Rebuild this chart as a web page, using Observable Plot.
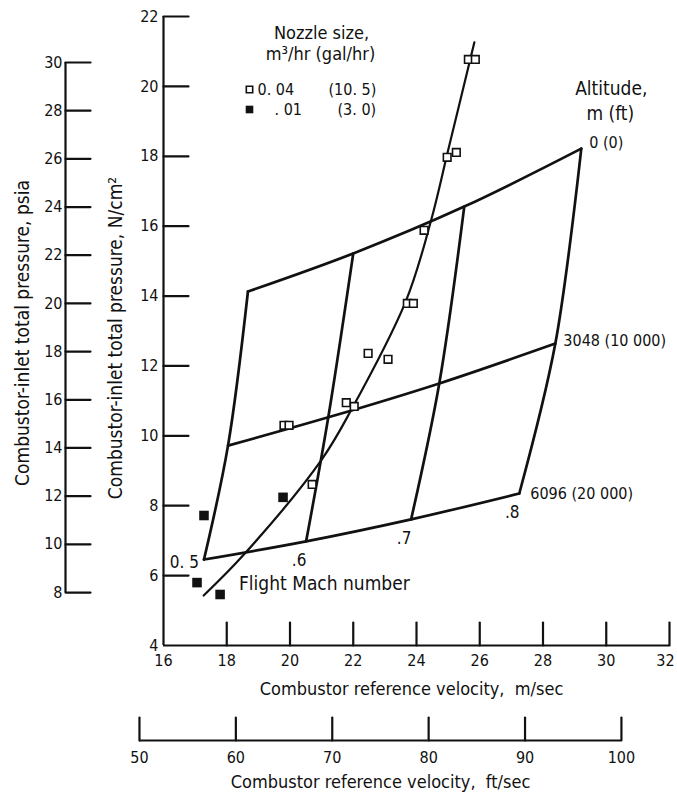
<!DOCTYPE html>
<html>
<head>
<meta charset="utf-8">
<script src="https://cdn.jsdelivr.net/npm/d3@7"></script>
<script src="https://cdn.jsdelivr.net/npm/@observablehq/plot@0.6"></script>
<style>
  html, body { margin: 0; padding: 0; background: #fff; }
  #chart svg { font-family: "DejaVu Sans Condensed", "DejaVu Sans", sans-serif; font-stretch: condensed; }
</style>
</head>
<body>
<div id="chart"></div>
<script>
// ---- unit conversions ----
const PSI = 0.689476;   // N/cm^2 per psi
const FT = 0.3048;      // m per ft

// ---- tick labels ----
const xTicks = [16, 18, 20, 22, 24, 26, 28, 30, 32];          // m/sec
const yTicks = [4, 6, 8, 10, 12, 14, 16, 18, 20, 22];          // N/cm^2
const psiaTicks = [8, 10, 12, 14, 16, 18, 20, 22, 24, 26, 28, 30];
const ftTicks = [50, 60, 70, 80, 90, 100];                     // ft/sec

// ---- operating envelope grid (velocity m/sec, pressure N/cm^2) ----
const altitudes = ["0 (0)", "3048 (10 000)", "6096 (20 000)"];
const machs = ["0. 5", ".6", ".7", ".8"];
const alt0Vel = [18.67, 22.00, 25.51, 29.21];
const alt0Prs = [14.13, 15.22, 16.56, 18.22];
const alt3048Vel = [18.04, 21.21, 24.72, 28.39];
const alt3048Prs = [9.72, 10.53, 11.50, 12.64];
const alt6096Vel = [17.28, 20.51, 23.83, 27.25];
const alt6096Prs = [6.46, 6.98, 7.61, 8.35];

// ---- faired curve through data ----
const fitVel = [17.27, 18.52, 20.98, 21.93, 23.67, 24.46, 25.00, 25.83];
const fitPrs = [5.43, 6.58, 9.29, 10.73, 13.87, 16.16, 18.17, 21.26];

// ---- data points ----
const openVel = [25.64, 25.86, 24.97, 25.26, 24.24, 23.71, 23.90, 22.47, 23.10, 21.78, 22.03, 19.81, 19.97, 20.70];
const openPrs = [20.77, 20.77, 17.97, 18.11, 15.88, 13.79, 13.79, 12.36, 12.19, 10.95, 10.84, 10.30, 10.30, 8.61];
const filledVel = [19.78, 17.28, 17.06, 17.79];
const filledPrs = [8.24, 7.72, 5.80, 5.46];

// ---- build tables ----
const altVel = [alt0Vel, alt3048Vel, alt6096Vel];
const altPrs = [alt0Prs, alt3048Prs, alt6096Prs];
const grid = altitudes.flatMap((a, i) => machs.map((m, j) => ({alt: a, mach: m, v: altVel[i][j], p: altPrs[i][j]})));
const fit = fitVel.map((v, i) => ({v, p: fitPrs[i]}));
const openPts = openVel.map((v, i) => ({v, p: openPrs[i]}));
const filledPts = filledVel.map((v, i) => ({v, p: filledPrs[i]}));

const lineShape = {draw(context, l) { context.moveTo(0, 0); context.lineTo(0, -l); }};
const ink = "#111";
const lastX = xTicks[xTicks.length - 1];

const plot = Plot.plot({
  width: 677,
  height: 792,
  marginLeft: 163,
  marginRight: 8,
  marginTop: 16,
  marginBottom: 147,
  x: {domain: [16, 32], axis: null},
  y: {domain: [4, 22], axis: null},
  style: {background: "#fff", color: ink},
  marks: [
    // main axes lines
    Plot.ruleX([16], {stroke: ink, strokeWidth: 2.2}),
    Plot.ruleY([4], {stroke: ink, strokeWidth: 2.2}),
    // inward ticks
    Plot.vector(xTicks.slice(1), {x: d => d, frameAnchor: "bottom", length: 23, anchor: "start", shape: lineShape, stroke: ink, strokeWidth: 2.2}),
    Plot.vector(yTicks.slice(1), {y: d => d, frameAnchor: "left", rotate: 90, length: 25, anchor: "start", shape: lineShape, stroke: ink, strokeWidth: 2.2}),
    Plot.axisX(xTicks.filter(d => d !== lastX), {tickSize: 0, tickPadding: 9, fontSize: 16, label: null}),
    Plot.text([lastX], {x: d => d, frameAnchor: "bottom", dx: -4, dy: 15, textAnchor: "middle", lineAnchor: "middle", text: d => String(d), fontSize: 16}),
    Plot.axisY(yTicks, {tickSize: 0, tickPadding: 5, fontSize: 16, label: null}),

    // psia axis (left, secondary)
    Plot.ruleX([16], {y1: psiaTicks[0] * PSI, y2: psiaTicks[psiaTicks.length - 1] * PSI, dx: -98, stroke: ink, strokeWidth: 2.2}),
    Plot.vector(psiaTicks, {y: d => d * PSI, frameAnchor: "left", dx: -98, rotate: 90, length: 25, anchor: "start", shape: lineShape, stroke: ink, strokeWidth: 2.2}),
    Plot.text(psiaTicks, {y: d => d * PSI, frameAnchor: "left", dx: -101, textAnchor: "end", lineAnchor: "middle", text: d => String(d), fontSize: 16}),

    // ft/sec axis (bottom, secondary)
    Plot.ruleY([4], {x1: ftTicks[0] * FT, x2: ftTicks[ftTicks.length - 1] * FT, dy: 95, stroke: ink, strokeWidth: 2.2}),
    Plot.vector(ftTicks, {x: d => d * FT, frameAnchor: "bottom", dy: 95, length: 23, anchor: "start", shape: lineShape, stroke: ink, strokeWidth: 2.2}),
    Plot.text(ftTicks, {x: d => d * FT, frameAnchor: "bottom", dy: 112, textAnchor: "middle", lineAnchor: "middle", text: d => String(d), fontSize: 16}),

    // axis titles
    Plot.text(["Combustor reference velocity,  m/sec"], {frameAnchor: "bottom", dx: -5, dy: 44, textAnchor: "middle", lineAnchor: "middle", fontSize: 18}),
    Plot.text(["Combustor reference velocity,  ft/sec"], {frameAnchor: "bottom", dx: -36, dy: 137, textAnchor: "middle", lineAnchor: "middle", fontSize: 18}),
    Plot.text(["Combustor-inlet total pressure, N/cm²"], {frameAnchor: "left", dx: -48, dy: 7, rotate: -90, textAnchor: "middle", lineAnchor: "middle", fontSize: 19}),
    Plot.text(["Combustor-inlet total pressure, psia"], {frameAnchor: "left", dx: -141, dy: 2, rotate: -90, textAnchor: "middle", lineAnchor: "middle", fontSize: 19}),

    // envelope grid
    Plot.line(grid, {x: "v", y: "p", z: "alt", curve: "catmull-rom", stroke: ink, strokeWidth: 2.7}),
    Plot.line(grid, {x: "v", y: "p", z: "mach", curve: "catmull-rom", stroke: ink, strokeWidth: 2.7}),

    // altitude labels
    Plot.text(grid.filter(d => d.mach === ".8" && d.alt === altitudes[0]), {x: "v", y: "p", text: "alt", dx: 8, dy: -6, textAnchor: "start", fontSize: 16}),
    Plot.text(grid.filter(d => d.mach === ".8" && d.alt === altitudes[1]), {x: "v", y: "p", text: "alt", dx: 8, dy: -3, textAnchor: "start", fontSize: 16}),
    Plot.text(grid.filter(d => d.mach === ".8" && d.alt === altitudes[2]), {x: "v", y: "p", text: "alt", dx: 11, dy: 0, textAnchor: "start", fontSize: 16}),
    Plot.text(grid.filter(d => d.mach === ".8" && d.alt === altitudes[0]), {x: "v", y: "p", text: () => "Altitude,", dx: 30, dy: -60, textAnchor: "middle", fontSize: 19}),
    Plot.text(grid.filter(d => d.mach === ".8" && d.alt === altitudes[0]), {x: "v", y: "p", text: () => "m (ft)", dx: 29, dy: -35, textAnchor: "middle", fontSize: 19}),

    // Mach labels
    Plot.text(grid.filter(d => d.alt === altitudes[2] && d.mach === machs[0]), {x: "v", y: "p", text: "mach", dx: -5, dy: 3, textAnchor: "end", fontSize: 17}),
    Plot.text(grid.filter(d => d.alt === altitudes[2] && d.mach !== machs[0]), {x: "v", y: "p", text: "mach", dx: -7, dy: 19, textAnchor: "middle", fontSize: 17}),
    Plot.text(grid.filter(d => d.alt === altitudes[2] && d.mach === machs[0]), {x: "v", y: "p", text: () => "Flight Mach number", dx: 35, dy: 24, textAnchor: "start", fontSize: 19}),

    // faired curve
    Plot.line(fit, {x: "v", y: "p", curve: "catmull-rom", stroke: ink, strokeWidth: 2.2}),

    // data points
    Plot.dot(openPts, {x: "v", y: "p", symbol: "square", r: 4.3, fill: "#fff", stroke: ink, strokeWidth: 1.6}),
    Plot.dot(filledPts, {x: "v", y: "p", symbol: "square", r: 5.4, fill: ink, stroke: "none"}),

    // legend
    Plot.text(["Nozzle size,"], {frameAnchor: "top-left", dx: 158, dy: 17, textAnchor: "middle", lineAnchor: "middle", fontSize: 18}),
    Plot.text(["m³/hr (gal/hr)"], {frameAnchor: "top-left", dx: 157, dy: 38, textAnchor: "middle", lineAnchor: "middle", fontSize: 18}),
    Plot.dot([0], {frameAnchor: "top-left", dx: 86, dy: 73, symbol: "square", r: 3.6, fill: "#fff", stroke: ink, strokeWidth: 1.6}),
    Plot.dot([0], {frameAnchor: "top-left", dx: 86, dy: 93, symbol: "square", r: 4.3, fill: ink, stroke: "none"}),
    Plot.text(["0. 04"], {frameAnchor: "top-left", dx: 94, dy: 73, textAnchor: "start", lineAnchor: "middle", fontSize: 16}),
    Plot.text(["(10. 5)"], {frameAnchor: "top-left", dx: 165, dy: 73, textAnchor: "start", lineAnchor: "middle", fontSize: 16}),
    Plot.text([". 01"], {frameAnchor: "top-left", dx: 111, dy: 93, textAnchor: "start", lineAnchor: "middle", fontSize: 16}),
    Plot.text(["(3. 0)"], {frameAnchor: "top-left", dx: 174, dy: 93, textAnchor: "start", lineAnchor: "middle", fontSize: 16})
  ]
});
document.getElementById("chart").append(plot);
</script>
</body>
</html>
